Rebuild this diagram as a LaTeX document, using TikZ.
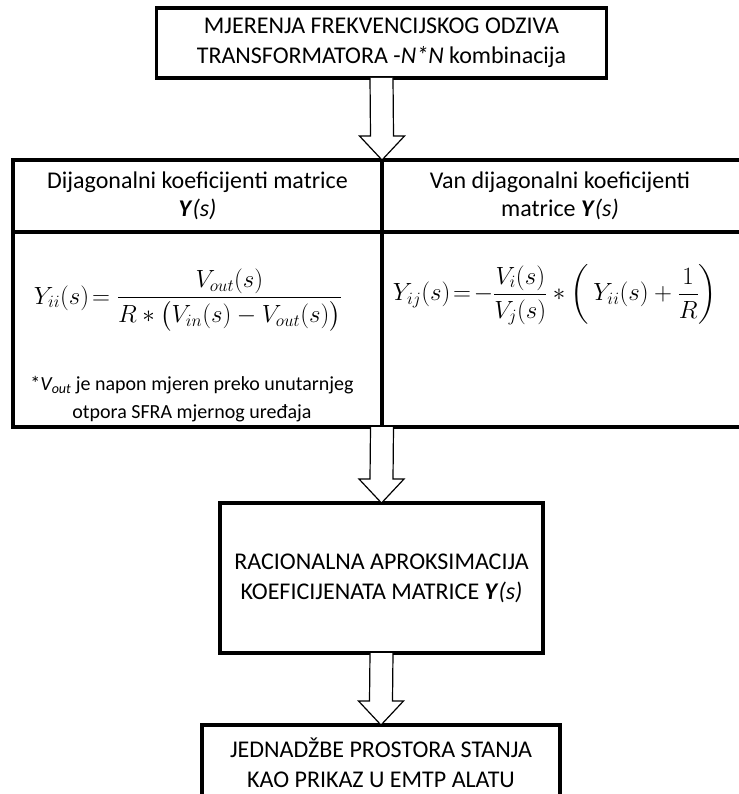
\documentclass[tikz,border=0pt]{standalone}
\usepackage{amsmath}
\usepackage{fontspec}
\setmainfont{Carlito}
\usetikzlibrary{positioning, calc, backgrounds}

\newcommand{\blockarrow}[2]{%
  \draw[blockarrow] ($(#1)+(-11.5,0)$) -- ($(#2)+(-11.5,-24)$) -- ($(#2)+(-22.5,-24)$)
    -- (#2) -- ($(#2)+(22.5,-24)$) -- ($(#2)+(11.5,-24)$) -- ($(#1)+(11.5,0)$);}

\begin{document}
\begin{tikzpicture}[
        x=1pt, y=-1pt,
        box/.style={rectangle, draw=black, line width=3.5pt, fill=white, align=center, inner sep=0pt, outer sep=0pt, font=\fontsize{24}{30}\selectfont},
        cell/.style={rectangle, draw=black, line width=4pt, align=center, inner sep=0pt, outer sep=0pt, font=\fontsize{24}{28}\selectfont},
        formula/.style={align=center, inner sep=0pt, font=\fontsize{24}{28}\selectfont},
        note/.style={align=center, inner sep=0pt, font=\fontsize{20}{28}\selectfont},
        blockarrow/.style={draw=black, line width=1.2pt, fill=white, line join=miter}
    ]
        \useasboundingbox (0,0) rectangle (738,794);

        % Boxes
        \node[box, minimum width=450pt, minimum height=70pt] (measure) at (381.5,43) {MJERENJA FREKVENCIJSKOG ODZIVA\\ TRANSFORMATORA -\textit{N*N} kombinacija};
        \node[box, minimum width=323pt, minimum height=150pt] (approx) at (381.5,578) {RACIONALNA APROKSIMACIJA\\ KOEFICIJENATA MATRICE \textbf{\textit{Y}}\textit{(s)}};
        \node[box, minimum width=358pt, minimum height=90pt] (statespace) at (381,770) {};
        \node[box, draw=none, fill=none] (statetext) at (381,763) {JEDNADŽBE PROSTORA STANJA\\ KAO PRIKAZ U EMTP ALATU};

        % Table
        \node[cell, minimum width=369pt, minimum height=72pt] (diaghead) at (197.5,196) {Dijagonalni koeficijenti matrice\\ \textbf{\textit{Y}}\textit{(s)}};
        \node[cell, minimum width=362pt, minimum height=72pt, right=0pt of diaghead] (offhead) {};
        \node[cell, draw=none] (offtext) at (560,196) {Van dijagonalni koeficijenti\\ matrice \textbf{\textit{Y}}\textit{(s)}};
        \node[cell, minimum width=369pt, minimum height=195pt, below=0pt of diaghead] (diagbody) {};
        \node[cell, minimum width=362pt, minimum height=195pt, below=0pt of offhead] (offbody) {};

        \node[formula] (yii) at (188,300) {$Y_{ii}(s)\!=\dfrac{V_{out}(s)}{R*\bigl(V_{in}(s)-V_{out}(s)\bigr)}$};
        \node[formula] (yij) at (555,295) {$Y_{ij}(s)\!=\!-\dfrac{V_i(s)}{V_j(s)}*\left(\,Y_{ii}(s)+\dfrac{1}{R}\right)$};
        \node[note] (vnote) at (192,399) {*\textit{V\textsubscript{out}} je napon mjeren preko unutarnjeg\\ otpora SFRA mjernog uređaja};

        % Arrows
        \blockarrow{measure.south}{diaghead.north east}
        \blockarrow{diagbody.south east}{approx.north}
        \blockarrow{approx.south}{statespace.north}
    \end{tikzpicture}
\end{document}
